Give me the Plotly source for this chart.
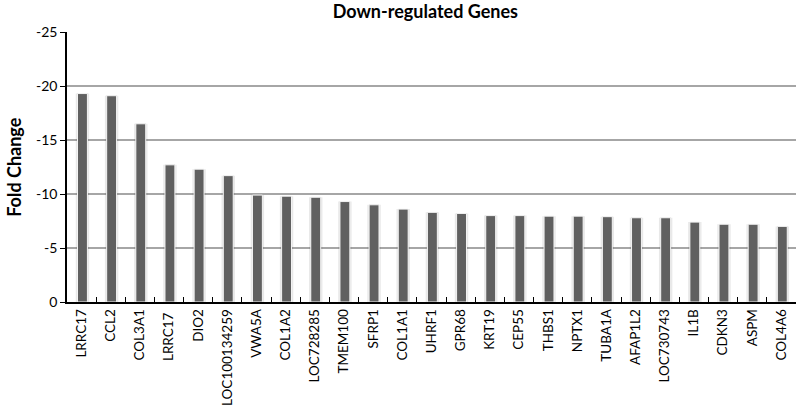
import plotly.graph_objects as go

GENES = [
    "LRRC17", "CCL2", "COL3A1", "LRRC17 ", "DIO2", "LOC100134259", "VWA5A",
    "COL1A2", "LOC728285", "TMEM100", "SFRP1", "COL1A1", "UHRF1", "GPR68",
    "KRT19", "CEP55", "THBS1", "NPTX1", "TUBA1A", "AFAP1L2", "LOC730743",
    "IL1B", "CDKN3", "ASPM", "COL4A6",
]
FOLD_CHANGE = [
    -19.3, -19.1, -16.5, -12.7, -12.3, -11.7, -9.9,
    -9.8, -9.7, -9.3, -9.0, -8.6, -8.3, -8.2,
    -8.0, -8.0, -7.95, -7.95, -7.9, -7.8, -7.8,
    -7.4, -7.2, -7.2, -7.0,
]
Y_TICKS = [0, -5, -10, -15, -20, -25]

FONT = "Lato, 'Open Sans', sans-serif"

fig = go.Figure()

# soft drop shadow behind each bar
fig.add_trace(go.Bar(
    x=GENES, y=FOLD_CHANGE,
    width=0.46, offset=-0.2,
    marker=dict(color="rgba(0,0,0,0.09)", line=dict(width=0)),
    hoverinfo="skip", showlegend=False,
))
fig.add_trace(go.Bar(
    x=GENES, y=FOLD_CHANGE,
    width=0.34, offset=-0.14,
    marker=dict(color="#606060", line=dict(color="#f4f4f4", width=1)),
    showlegend=False,
))

fig.update_layout(
    width=798, height=418,
    margin=dict(l=67, r=2, t=32, b=116),
    paper_bgcolor="white", plot_bgcolor="white",
    barmode="overlay",
    font=dict(family=FONT, size=13, color="black"),
    title=dict(
        text="<b>Down-regulated Genes</b>",
        x=0.533, xanchor="center", y=0.971, yanchor="middle",
        font=dict(family=FONT, size=18, color="black"),
    ),
    annotations=[dict(
        text="<b>Fold Change</b>", textangle=-90,
        xref="paper", yref="paper", x=-0.073, y=0.5,
        xanchor="center", yanchor="middle", showarrow=False,
        font=dict(family=FONT, size=18, color="black"),
    )],
)
fig.update_xaxes(
    type="category", range=[-0.5, len(GENES) - 0.5], automargin=False,
    showline=True, linecolor="black", linewidth=1.5,
    ticks="inside", tickson="boundaries", ticklen=5, tickcolor="black",
    tickangle=-90, tickfont=dict(size=13.5),
    showgrid=False,
)
fig.update_yaxes(
    range=[0, -25], automargin=False,
    tickvals=Y_TICKS, ticktext=[str(v) for v in Y_TICKS],
    showline=True, linecolor="black", linewidth=1.5,
    ticks="outside", ticklen=5, tickcolor="black",
    showgrid=True, gridcolor="#a6a6a6", gridwidth=1.5,
    zeroline=False,
    tickfont=dict(size=14),
)

# page body has a default 8px margin; drop it so the chart sits at 0,0
fig.write_html(
    "out.html",
    config={"displayModeBar": False},
    post_script="document.body.style.margin='0';",
)
